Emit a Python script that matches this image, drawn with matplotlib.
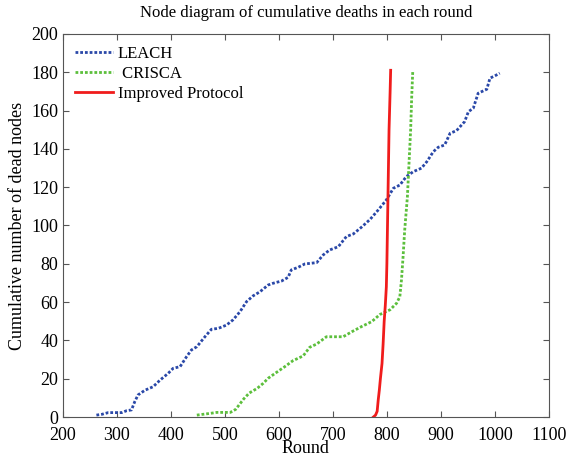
import matplotlib.pyplot as plt

plt.rcParams["font.family"] = ["Liberation Serif", "DejaVu Serif"]

# LEACH
leach_round = [262, 272, 284, 309, 318, 327, 333, 339, 352, 367, 380, 395, 404, 417,
               429, 438, 448, 463, 475, 488, 503, 515, 528, 540, 552, 565, 580, 589,
               605, 617, 623, 636, 648, 670, 682, 694, 710, 725, 738, 753, 769, 784,
               799, 812, 824, 836, 849, 864, 874, 886, 895, 907, 917, 929, 944, 951,
               960, 969, 985, 991, 1000, 1009]
leach_dead = [1, 1.4, 2.3, 2.3, 3.3, 3.7, 8, 11.5, 14, 15.8, 19.3, 22.8, 25.4, 26.3,
              31.5, 35, 36.7, 41.9, 45.8, 46.3, 48, 50.7, 55, 60.2, 63.2, 65.4, 68.9, 69.8,
              71, 72.9, 76.8, 78.2, 79.9, 80.6, 84.6, 87.2, 88.9, 94.2, 95.6, 99.1, 103.2, 108.1,
              113.3, 119.4, 121.1, 125.5, 128.1, 129.9, 133.3, 138.5, 140.8, 142, 148.1, 149.5, 154.2, 159.4,
              161.2, 169, 171.1, 176.9, 178.1, 179.5]

# CRISCA
crisca_round = [448, 470, 485, 510, 520, 535, 545, 560, 571, 580, 593, 611, 626, 645,
                657, 670, 688, 719, 735, 753, 772, 787, 806, 818, 824, 827, 830, 833,
                838, 841, 844, 846, 848]
crisca_dead = [1, 1.8, 2.4, 2.4, 4, 9.5, 12.5, 15, 17.6, 20.2, 22.8, 26.3, 29.4, 31.9,
               36.4, 38.1, 41.9, 41.9, 44.5, 47.2, 49.8, 53.5, 56, 59.4, 62.8, 71.5, 83.7, 97.6,
               115, 132.5, 149.9, 167.3, 181]

# Improved Protocol
improved_round = [775, 779, 782, 784, 786, 788, 791, 793, 795, 797, 799, 800, 802, 804, 806, 807]
improved_dead = [0, 1, 3, 9, 14, 20, 28, 38, 50, 58, 68, 80, 115, 150, 170, 181]

fig = plt.figure(figsize=(5.67, 4.58), dpi=100)
ax = fig.add_axes([0.111, 0.0895, 0.857, 0.8365])

dots = (0, (1, 0.7))
ax.plot(leach_round, leach_dead, linestyle=dots, color="#2a48a8", linewidth=2, label="LEACH")
ax.plot(crisca_round, crisca_dead, linestyle=dots, color="#5cbf3c", linewidth=2, label=" CRISCA")
ax.plot(improved_round, improved_dead, linestyle="-", color="#f01c1c", linewidth=2,
        label="Improved Protocol")

ax.set_xlim(200, 1100)
ax.set_ylim(0, 200)
ax.set_xticks(range(200, 1101, 100))
ax.set_yticks(range(0, 201, 20))
ax.tick_params(direction="in", top=True, right=True, labelsize=13, length=4,
               color="#555555")
ax.tick_params(axis="x", pad=7)
for s in ax.spines.values():
    s.set_color("#555555")

ax.set_title("Node diagram of cumulative deaths in each round", fontsize=12, pad=12)
ax.set_xlabel("Round", fontsize=13, labelpad=-3)
ax.set_ylabel("Cumulative number of dead nodes", fontsize=13, labelpad=4)
ax.legend(loc="upper left", frameon=False, fontsize=12, handlelength=2.3,
          borderaxespad=0.3, labelspacing=0.25, handletextpad=0.3)

plt.savefig("out.png", dpi=100)
